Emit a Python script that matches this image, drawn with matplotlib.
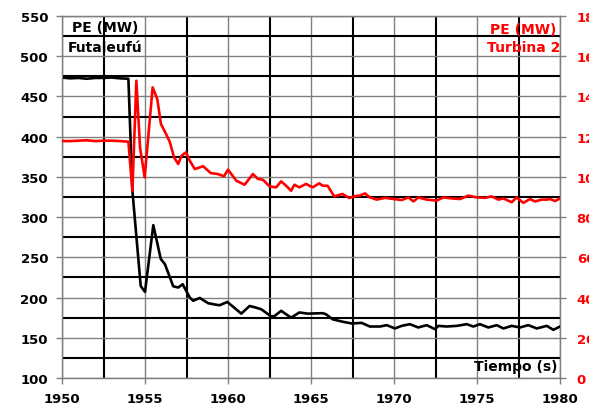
import matplotlib
matplotlib.use("Agg")
import matplotlib.pyplot as plt
from matplotlib.ticker import MultipleLocator

# ---- data ----
futa_t = [1950.0, 1950.5, 1951.0, 1951.5, 1952.0, 1952.5, 1953.0, 1953.5, 1954.0,
          1954.24, 1954.74, 1955.0, 1955.5, 1955.95, 1956.2, 1956.7, 1957.0, 1957.27,
          1957.7, 1957.9, 1958.3, 1958.8, 1959.3, 1959.5, 1959.96, 1960.4, 1960.8,
          1961.3, 1961.6, 1962.0, 1962.6, 1962.8, 1963.2, 1963.8, 1964.3, 1964.8,
          1965.1, 1965.7, 1965.9, 1966.3, 1966.9, 1967.45, 1968.05, 1968.55, 1969.16,
          1969.56, 1970.06, 1970.46, 1970.96, 1971.46, 1971.97, 1972.47, 1972.67,
          1973.17, 1973.78, 1974.38, 1974.78, 1975.18, 1975.68, 1976.19, 1976.59,
          1977.09, 1977.59, 1978.09, 1978.6, 1979.2, 1979.6, 1980.0]
futa_pe = [473.5, 472.5, 473.0, 472.0, 473.0, 473.0, 473.5, 472.5, 472.0,
           333.0, 214.5, 207.0, 290.0, 248.0, 241.5, 214.0, 212.5, 216.5,
           200.0, 196.0, 199.5, 193.0, 191.0, 190.5, 194.5, 187.0, 180.0,
           189.5, 188.0, 185.5, 176.5, 177.0, 183.5, 175.0, 181.5, 180.0,
           180.2, 180.6, 179.3, 173.0, 170.0, 167.8, 168.5, 164.0, 164.0,
           165.7, 161.6, 164.8, 166.9, 162.8, 165.7, 160.7, 164.8,
           164.0, 164.8, 166.9, 164.0, 166.9, 162.8, 165.7, 161.6,
           164.8, 162.8, 165.7, 161.6, 164.8, 159.9, 164.0]

turb_t = [1950.0, 1950.5, 1951.0, 1951.5, 1952.0, 1952.5, 1953.0, 1953.5, 1954.0,
          1954.24, 1954.48, 1954.7, 1954.98, 1955.46, 1955.74, 1955.96, 1956.27,
          1956.5, 1956.75, 1957.0, 1957.2, 1957.47, 1957.7, 1958.0, 1958.5, 1958.96,
          1959.4, 1959.76, 1960.0, 1960.5, 1961.0, 1961.5, 1961.8, 1962.1, 1962.5,
          1962.9, 1963.2, 1963.5, 1963.8, 1964.0, 1964.3, 1964.7, 1965.1, 1965.5,
          1965.7, 1966.0, 1966.4, 1966.9, 1967.3, 1967.75, 1967.95, 1968.25, 1968.55,
          1968.96, 1969.46, 1969.97, 1970.47, 1970.87, 1971.17, 1971.47, 1971.97,
          1972.57, 1972.97, 1973.47, 1973.98, 1974.48, 1974.98, 1975.48, 1975.88,
          1976.29, 1976.59, 1977.09, 1977.39, 1977.79, 1978.19, 1978.49, 1978.9,
          1979.2, 1979.4, 1979.7, 1980.0]
turb_pe = [117.8, 117.8, 118.0, 118.2, 117.8, 118.0, 118.0, 117.8, 117.5,
           93.1, 147.8, 114.7, 99.8, 144.5, 138.7, 126.3, 121.3,
           117.2, 109.7, 106.4, 110.5, 112.2, 108.0, 103.9, 105.3, 101.9,
           101.4, 100.3, 103.6, 98.1, 96.1, 101.4, 99.0, 98.6, 95.3,
           94.8, 97.8, 95.6, 93.1, 96.1, 94.8, 96.5, 94.8, 96.8,
           95.6, 95.6, 90.3, 91.5, 89.5, 90.6, 90.7, 91.8, 89.8,
           88.7, 89.6, 89.0, 88.5, 89.8, 87.8, 89.8, 88.7,
           88.2, 89.8, 89.3, 89.0, 90.7, 89.8, 89.6, 90.3,
           88.7, 89.3, 87.4, 89.8, 87.1, 89.0, 87.8, 88.7,
           88.7, 89.0, 88.0, 89.3]

x_lim = (1950, 1980)
left_lim = (100, 550)
right_lim = (0, 180)

FONT = "DejaVu Sans"
plt.rcParams["font.family"] = [FONT]

fig = plt.figure(figsize=(5.89, 4.14), dpi=100)
ax = fig.add_axes([62 / 589, 1 - 379 / 414, (560 - 62) / 589, (379 - 17) / 414])

ax.set_xlim(*x_lim)
ax.set_ylim(*left_lim)
ax.xaxis.set_major_locator(MultipleLocator(5))
ax.xaxis.set_minor_locator(MultipleLocator(2.5))
ax.yaxis.set_major_locator(MultipleLocator(50))
ax.yaxis.set_minor_locator(MultipleLocator(25))
ax.grid(which="major", color="#808080", lw=1.0)
ax.grid(which="minor", color="black", lw=1.5)
ax.set_axisbelow(True)
ax.tick_params(which="minor", length=0)
ax.tick_params(which="major", direction="out", length=4, width=1, color="#808080",
               labelsize=9.5)
ax.tick_params(axis="y", pad=6)
ax.tick_params(axis="x", pad=6)
for lab in ax.get_xticklabels() + ax.get_yticklabels():
    lab.set_fontweight("bold")
for s in ax.spines.values():
    s.set_color("#808080")
    s.set_linewidth(1.0)

ax.plot(futa_t, futa_pe, color="black", lw=1.9, zorder=3)

ax2 = ax.twinx()
ax2.set_ylim(*right_lim)
ax2.yaxis.set_major_locator(MultipleLocator(20))
ax2.tick_params(axis="y", direction="out", length=4, width=1, color="#808080",
                labelsize=9.5, labelcolor="red", pad=8)
for lab in ax2.get_yticklabels():
    lab.set_fontweight("bold")
for s in ax2.spines.values():
    s.set_color("#808080")
ax2.plot(turb_t, turb_pe, color="red", lw=1.9, zorder=3)

ax.text(1952.6, 536.5, "PE (MW)", ha="center", va="center", fontsize=10,
        fontweight="bold", color="black", zorder=5)
ax.text(1952.6, 511.5, "Futaleufú", ha="center", va="center", fontsize=10,
        fontweight="bold", color="black", zorder=5)
ax.text(1979.8, 534.0, "PE (MW)", ha="right", va="center", fontsize=10,
        fontweight="bold", color="red", zorder=5)
ax.text(1980.0, 511.5, "Turbina 2", ha="right", va="center", fontsize=10,
        fontweight="bold", color="red", zorder=5)
ax.text(1979.85, 115.0, "Tiempo (s)", ha="right", va="center", fontsize=10,
        fontweight="bold", color="black", zorder=5)

fig.savefig("out.png", dpi=100)
